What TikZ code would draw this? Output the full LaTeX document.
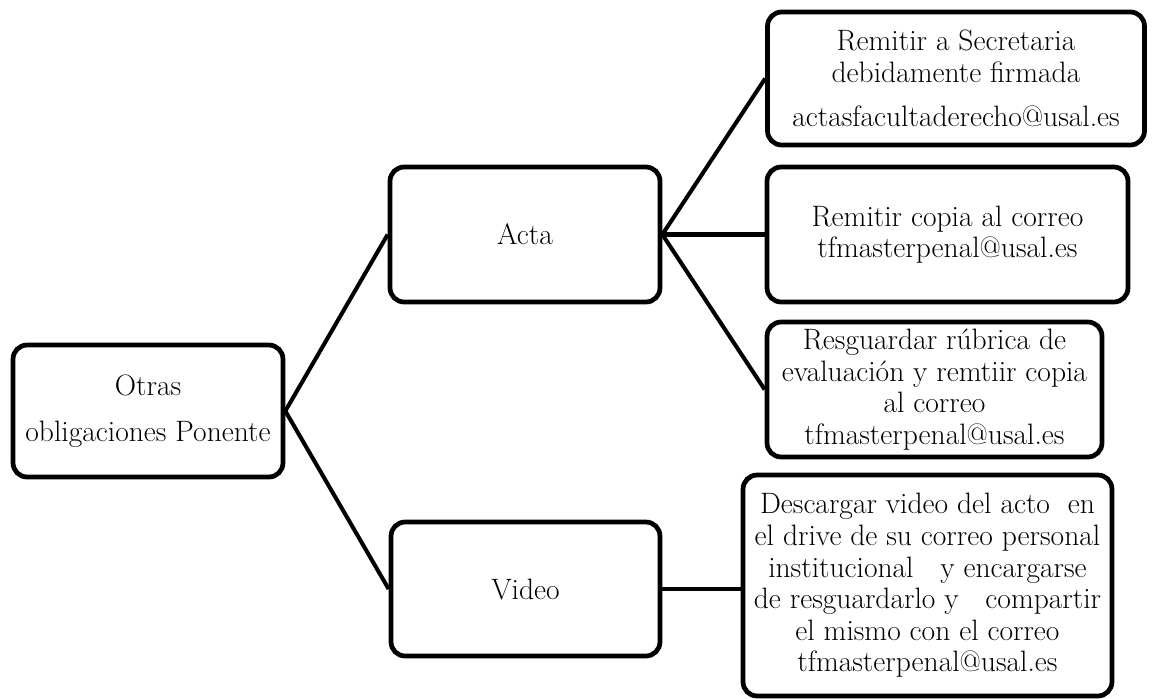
\documentclass[tikz,border=0pt]{standalone}
\begin{document}
\begin{tikzpicture}[x=0.02cm,y=-0.02cm,
  box/.style={draw,line width=2.7pt,rounded corners=8pt,align=center,inner sep=2pt,
    font=\fontsize{16.8}{18}\selectfont},
  link/.style={line width=2.3pt}]
\useasboundingbox (0,0) rectangle (1153,698);
% niveles
\node[box,minimum width=5.4cm,minimum height=2.64cm] (root) at (148,411) {Otras\\[8.5pt]obligaciones Ponente};
\node[box,minimum width=5.4cm,minimum height=2.7cm] (acta) at (525,234.5) {Acta};
\node[box,minimum width=5.38cm,minimum height=2.68cm] (video) at (525.5,589) {Video};
% tareas
\node[box,minimum width=7.54cm,minimum height=2.66cm] (r1) at (956,78.5)
  {Remitir a Secretaria\\debidamente firmada\\[7pt]actasfacultaderecho@usal.es};
\node[box,minimum width=7.22cm,minimum height=2.7cm] (r2) at (947.5,234.5)
  {Remitir copia al correo\\tfmasterpenal@usal.es};
\node[box,minimum width=6.7cm,minimum height=2.7cm] (r3) at (934.5,389.5)
  {Resguardar r\'ubrica de\\evaluaci\'on y remtiir copia\\al correo\\tfmasterpenal@usal.es};
\node[box,minimum width=7.38cm,minimum height=4.42cm] (r4) at (927.5,585.5)
  {Descargar video del acto \ en\\el drive de su correo personal\\institucional \ \ y encargarse\\de resguardarlo y \ \ compartir\\el mismo con el correo\\tfmasterpenal@usal.es};

\draw[link] (root.east)--(acta.west);
\draw[link] (root.east)--(video.west);
\draw[link] (acta.east)--(r1.west);
\draw[link] (acta.east)--(r2.west);
\draw[link] (acta.east)--(r3.west);
\draw[link] (video.east)--(video.east -| r4.west);

\end{tikzpicture}
\end{document}
